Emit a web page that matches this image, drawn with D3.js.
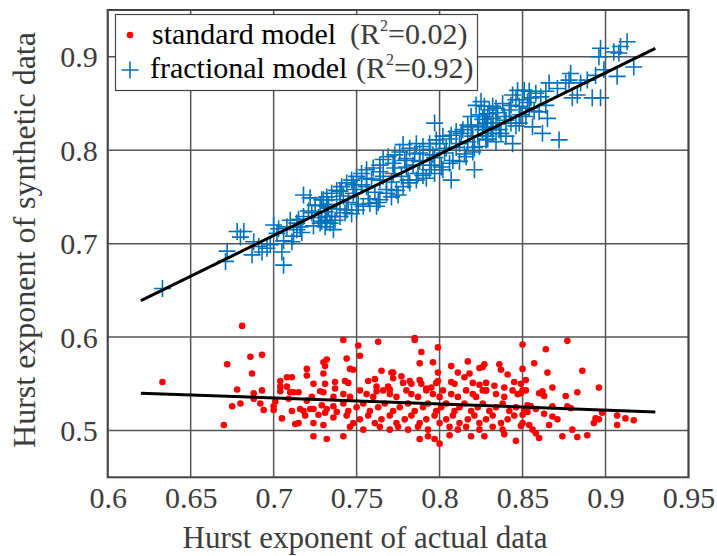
<!DOCTYPE html>
<html><head><meta charset="utf-8">
<script src="https://cdn.jsdelivr.net/npm/d3@7"></script>
<style>body{margin:0;background:#fff}svg{display:block}</style>
</head><body>
<script>
const xTicks=[0.6,0.65,0.7,0.75,0.8,0.85,0.9,0.95];
const yTicks=[0.5,0.6,0.7,0.8,0.9];
const xLabel="Hurst exponent of actual data";
const yLabel="Hurst exponent of synthetic data";
const legendLabels=["standard model","fractional model"];
const legendR2=["0.02","0.92"];
// standard model (red dots)
const redX=[0.681,0.633,0.672,0.686,0.693,0.687,0.678,0.688,0.693,0.675,0.680,0.688,0.692,0.694,0.670,0.700,0.700,0.701,0.704,0.704,0.704,0.708,0.711,0.708,0.710,0.712,0.715,0.709,0.705,0.711,0.716,0.718,0.719,0.713,0.715,0.724,0.720,0.720,0.724,0.720,0.723,0.722,0.724,0.724,0.727,0.728,0.730,0.730,0.732,0.731,0.730,0.731,0.729,0.732,0.731,0.730,0.732,0.736,0.737,0.737,0.736,0.736,0.738,
0.742,0.751,0.752,0.763,0.785,0.785,0.799,0.789,0.788,0.796,0.744,0.746,0.748,0.743,0.745,0.765,0.771,0.772,0.772,0.777,0.757,0.761,0.762,0.762,0.769,0.770,0.778,0.782,0.783,0.788,0.789,0.792,0.795,0.798,0.799,0.799,0.807,0.811,0.817,0.818,0.815,0.824,0.826,0.827,0.836,0.837,0.841,0.845,0.807,0.809,0.820,0.824,0.828,0.833,0.839,0.828,0.826,
0.742,0.746,0.752,0.756,0.760,0.766,0.770,0.774,0.780,0.783,0.787,0.792,0.796,0.800,0.802,0.807,0.811,0.816,0.820,0.822,0.828,0.834,0.839,0.844,0.847,
0.742,0.745,0.750,0.754,0.758,0.763,0.767,0.772,0.776,0.781,0.785,0.790,0.793,0.798,0.801,0.804,0.809,0.812,0.815,0.819,0.823,0.826,0.830,0.834,0.838,0.842,0.846,
0.744,0.748,0.752,0.757,0.761,0.765,0.770,0.774,0.779,0.783,0.788,0.792,0.797,0.800,0.804,0.808,0.812,0.817,0.821,0.824,0.828,0.832,0.837,0.841,0.845,
0.746,0.754,0.764,0.770,0.775,0.781,0.787,0.793,0.806,0.811,0.816,0.824,0.832,0.838,
0.742,0.788,0.793,0.797,0.800,0.806,0.819,0.827,0.839,0.846,
0.877,0.850,0.864,0.857,0.850,0.865,0.886,0.852,0.849,0.850,0.852,0.849,0.868,0.860,0.862,0.863,0.876,0.883,0.896,0.853,0.855,0.858,0.868,0.877,0.879,0.851,0.850,0.853,0.863,0.868,0.871,0.898,0.894,0.896,0.893,0.907,0.907,0.912,0.917,0.850,0.849,0.854,0.856,0.858,0.860,0.866,0.880,0.874,0.883,0.889];
const redY=[0.612,0.552,0.571,0.579,0.581,0.561,0.544,0.540,0.543,0.526,0.529,0.534,0.529,0.522,0.506,0.526,0.522,0.531,0.553,0.547,0.542,0.557,0.557,0.547,0.541,0.541,0.541,0.534,0.513,0.521,0.523,0.521,0.516,0.507,0.508,0.494,0.566,0.559,0.550,0.532,0.536,0.523,0.523,0.508,0.517,0.542,0.541,0.573,0.576,0.569,0.561,0.550,0.527,0.523,0.519,0.506,0.491,0.536,0.545,0.552,0.526,0.514,0.520,
0.597,0.591,0.580,0.595,0.599,0.597,0.589,0.584,0.572,0.573,0.577,0.566,0.565,0.553,0.551,0.564,0.562,0.562,0.556,0.558,0.553,0.555,0.547,0.542,0.547,0.544,0.551,0.553,0.550,0.554,0.550,0.545,0.546,0.551,0.562,0.553,0.569,0.562,0.574,0.561,0.557,0.567,0.568,0.571,0.571,0.565,0.560,0.552,0.552,0.550,0.551,0.549,0.551,0.548,0.546,0.543,0.543,
0.539,0.536,0.543,0.539,0.536,0.543,0.539,0.536,0.543,0.539,0.536,0.543,0.539,0.536,0.543,0.539,0.536,0.543,0.539,0.536,0.543,0.539,0.536,0.543,0.539,
0.529,0.521,0.525,0.529,0.521,0.525,0.529,0.521,0.525,0.529,0.521,0.525,0.529,0.521,0.525,0.529,0.521,0.525,0.529,0.521,0.525,0.529,0.521,0.525,0.529,0.521,0.525,
0.516,0.508,0.512,0.516,0.508,0.512,0.516,0.508,0.512,0.516,0.508,0.512,0.516,0.508,0.512,0.516,0.508,0.512,0.516,0.508,0.512,0.516,0.508,0.512,0.516,
0.504,0.501,0.504,0.501,0.504,0.501,0.504,0.501,0.504,0.501,0.504,0.501,0.504,0.501,
0.494,0.491,0.494,0.491,0.486,0.495,0.494,0.494,0.496,0.489,
0.596,0.592,0.587,0.572,0.566,0.562,0.564,0.554,0.550,0.543,0.543,0.540,0.546,0.540,0.542,0.537,0.537,0.541,0.546,0.527,0.526,0.523,0.526,0.526,0.524,0.522,0.517,0.520,0.518,0.515,0.512,0.519,0.513,0.512,0.508,0.516,0.506,0.513,0.511,0.508,0.505,0.506,0.501,0.497,0.492,0.506,0.501,0.494,0.493,0.495];
// fractional model (blue crosses)
const blueX=[0.633,0.672,0.671,0.678,0.682,0.680,0.688,0.691,0.693,0.696,0.698,0.687,0.700,0.702,0.705,0.706,0.711,0.708,0.710,0.714,0.718,0.723,0.722,0.725,0.729,0.731,0.733,0.732,0.728,0.718,0.714,0.716,
0.822,0.827,0.832,0.829,0.824,0.819,0.832,0.834,0.828,0.823,0.817,0.814,0.810,0.807,0.802,0.798,0.794,0.790,0.786,0.782,0.778,0.776,0.773,0.769,0.766,0.764,0.760,0.756,0.753,0.750,0.747,0.744,0.741,0.738,0.735,0.732,0.730,0.728,
0.832,0.828,0.824,0.820,0.816,0.821,0.807,0.812,0.806,0.802,0.797,0.794,0.790,0.786,0.782,0.778,0.774,0.771,0.768,0.764,0.762,0.758,0.754,0.750,0.747,0.744,0.740,0.737,0.734,0.731,0.736,0.732,0.729,
0.828,0.820,0.812,0.804,0.796,0.788,0.780,0.772,0.764,0.756,0.748,0.740,0.732,
0.788,0.780,0.772,0.764,0.756,0.748,0.740,0.732,0.797,
0.913,0.909,0.897,0.905,0.896,0.908,0.917,0.907,0.899,0.894,0.889,0.885,0.879,0.878,0.876,0.883,0.880,0.897,0.892,0.871,0.866,0.864,0.861,0.858,0.854,0.851,0.847,0.844,0.864,0.860,0.865,0.862,0.872,0.856,0.852,0.848,0.846,0.842,0.838,0.834,0.830,0.827,0.832,0.836,0.840,0.844,0.834,0.828,0.850,0.855,0.854,0.848,0.843,0.839,0.829,0.826,0.825,
0.703,0.706,0.712,0.715,0.717,0.721,0.724,0.727,0.733,0.735,0.738,0.742,0.743,0.745,0.749,0.751,0.753,0.757,0.759,0.761,0.763,0.766,0.768,0.771,0.773,0.775,0.777,0.779,0.781,0.784,0.785,0.787,0.790,0.792,0.794,0.795,0.797,0.800,0.801,0.803,0.806,0.808,0.810,0.813,0.815,0.817,0.819,0.821,0.823,0.826,0.829,0.831,0.835,0.837,0.840,0.843,0.846,0.849,0.853,0.857];
const blueY=[0.652,0.692,0.681,0.713,0.713,0.707,0.702,0.697,0.691,0.695,0.699,0.688,0.720,0.711,0.691,0.677,0.702,0.718,0.725,0.722,0.729,0.733,0.749,0.741,0.747,0.734,0.738,0.725,0.722,0.752,0.715,0.718,
0.848,0.847,0.847,0.839,0.838,0.836,0.834,0.829,0.829,0.827,0.827,0.822,0.820,0.816,0.815,0.811,0.807,0.804,0.807,0.802,0.806,0.798,0.795,0.793,0.790,0.784,0.781,0.779,0.775,0.772,0.768,0.765,0.761,0.757,0.754,0.750,0.747,0.741,
0.818,0.811,0.804,0.798,0.793,0.779,0.768,0.788,0.786,0.779,0.775,0.779,0.773,0.768,0.765,0.761,0.757,0.750,0.754,0.747,0.740,0.743,0.740,0.736,0.732,0.736,0.729,0.725,0.722,0.718,0.715,0.729,0.724,
0.822,0.815,0.807,0.802,0.795,0.788,0.782,0.775,0.768,0.761,0.754,0.747,0.740,
0.797,0.791,0.786,0.777,0.770,0.763,0.756,0.747,0.829,
0.916,0.911,0.909,0.905,0.900,0.904,0.889,0.879,0.886,0.880,0.875,0.872,0.882,0.875,0.872,0.859,0.856,0.856,0.856,0.866,0.872,0.863,0.857,0.861,0.863,0.864,0.864,0.859,0.848,0.841,0.834,0.818,0.811,0.825,0.836,0.847,0.854,0.843,0.850,0.845,0.843,0.836,0.829,0.822,0.815,0.807,0.809,0.815,0.854,0.856,0.845,0.829,0.829,0.836,0.825,0.822,0.852,
0.716,0.703,0.708,0.726,0.712,0.735,0.719,0.728,0.742,0.729,0.737,0.751,0.733,0.744,0.758,0.742,0.763,0.748,0.769,0.755,0.744,0.772,0.758,0.766,0.781,0.752,0.772,0.789,0.768,0.784,0.796,0.775,0.789,0.770,0.801,0.784,0.792,0.807,0.782,0.797,0.812,0.789,0.803,0.818,0.796,0.809,0.825,0.803,0.815,0.833,0.812,0.824,0.840,0.818,0.832,0.848,0.826,0.838,0.851,0.842];
// least-squares fit lines (end points)
const fitX=[0.62,0.93];
const fitStdY=[0.540,0.520];
const fitFracY=[0.639,0.909];

const W=717,H=556;
const FONT='"Liberation Serif","Times New Roman",Times,serif';
const svg=d3.select("body").append("svg").attr("width",W).attr("height",H);
const x=d3.scaleLinear().domain([0.6,0.95]).range([107.7,688.5]);
const y=d3.scaleLinear().domain([0.45,0.95]).range([477.3,10]);
const gridC="#555",axisC="#444",textC="#3c3c3c";

// grid
const g=svg.append("g");
g.selectAll(".gx").data(xTicks).join("line").attr("x1",d=>x(d)).attr("x2",d=>x(d)).attr("y1",y(0.45)).attr("y2",y(0.95)).attr("stroke",gridC).attr("stroke-width",1.5);
g.selectAll(".gy").data(yTicks).join("line").attr("y1",d=>y(d)).attr("y2",d=>y(d)).attr("x1",x(0.6)).attr("x2",x(0.95)).attr("stroke",gridC).attr("stroke-width",1.5);

// points
const red=d3.zip(redX,redY), blue=d3.zip(blueX,blueY);
svg.append("g").selectAll("circle").data(red).join("circle").attr("cx",d=>x(d[0])).attr("cy",d=>y(d[1])).attr("r",3.3).attr("fill","#ff0000");
svg.append("g").selectAll("path").data(blue).join("path").attr("transform",d=>`translate(${x(d[0])},${y(d[1])})`).attr("d","M-8.5,0H8.5M0,-8.5V8.5").attr("stroke","#0072bd").attr("stroke-width",1.6).attr("fill","none");

// fit lines
const line=d3.line().x(d=>x(d[0])).y(d=>y(d[1]));
[fitStdY,fitFracY].forEach(ys=>svg.append("path").datum(d3.zip(fitX,ys)).attr("d",line).attr("stroke","#000").attr("stroke-width",3).attr("fill","none"));

// axes box
svg.append("rect").attr("x",x(0.6)).attr("y",y(0.95)).attr("width",x(0.95)-x(0.6)).attr("height",y(0.45)-y(0.95)).attr("fill","none").attr("stroke",axisC).attr("stroke-width",2);

// tick labels via axes
const xa=svg.append("g").attr("transform",`translate(0,${y(0.45)})`).call(d3.axisBottom(x).tickValues(xTicks).tickFormat(d=>String(d)).tickSize(0).tickPadding(30));
const ya=svg.append("g").attr("transform",`translate(${x(0.6)},0)`).call(d3.axisLeft(y).tickValues(yTicks).tickFormat(d=>String(d)).tickSize(0).tickPadding(10));
[xa,ya].forEach(a=>{a.select(".domain").remove();a.attr("font-family",null).attr("font-size",null);a.selectAll("text").style("font-family",FONT).style("font-size","30px").attr("fill",textC);});
xa.selectAll("text").attr("dy",0).attr("y",31);
ya.selectAll("text").attr("dy","0.34em");

// axis labels
svg.append("text").attr("x",365).attr("y",548).attr("text-anchor","middle").style("font-family",FONT).style("font-size","31px").attr("fill",textC).text(xLabel);
svg.append("text").attr("transform","translate(35,240) rotate(-90)").attr("text-anchor","middle").style("font-family",FONT).style("font-size","32px").attr("fill",textC).text(yLabel);

// legend
const lg=svg.append("g");
lg.append("rect").attr("x",115.5).attr("y",14.5).attr("width",362).attr("height",76).attr("fill","#fff").attr("stroke",axisC).attr("stroke-width",1.2);
lg.append("circle").attr("cx",130).attr("cy",35).attr("r",3.3).attr("fill","#ff0000");
lg.append("path").attr("transform","translate(130,70)").attr("d","M-8.5,0H8.5M0,-8.5V8.5").attr("stroke","#0072bd").attr("stroke-width",1.6);
[[152,44],[150,78]].forEach((p,i)=>{
  const t=lg.append("text").attr("x",p[0]).attr("y",p[1]).style("font-family",FONT).style("font-size","30px").attr("fill","#000");
  t.append("tspan").text(legendLabels[i]);
  t.append("tspan").attr("fill",textC).attr("x",i===0?350:356).text("(R");
  t.append("tspan").attr("fill",textC).style("font-size","16px").attr("dy",-13).text("2");
  t.append("tspan").attr("fill",textC).attr("dy",13).text("="+legendR2[i]+")");
});
</script>
</body></html>
